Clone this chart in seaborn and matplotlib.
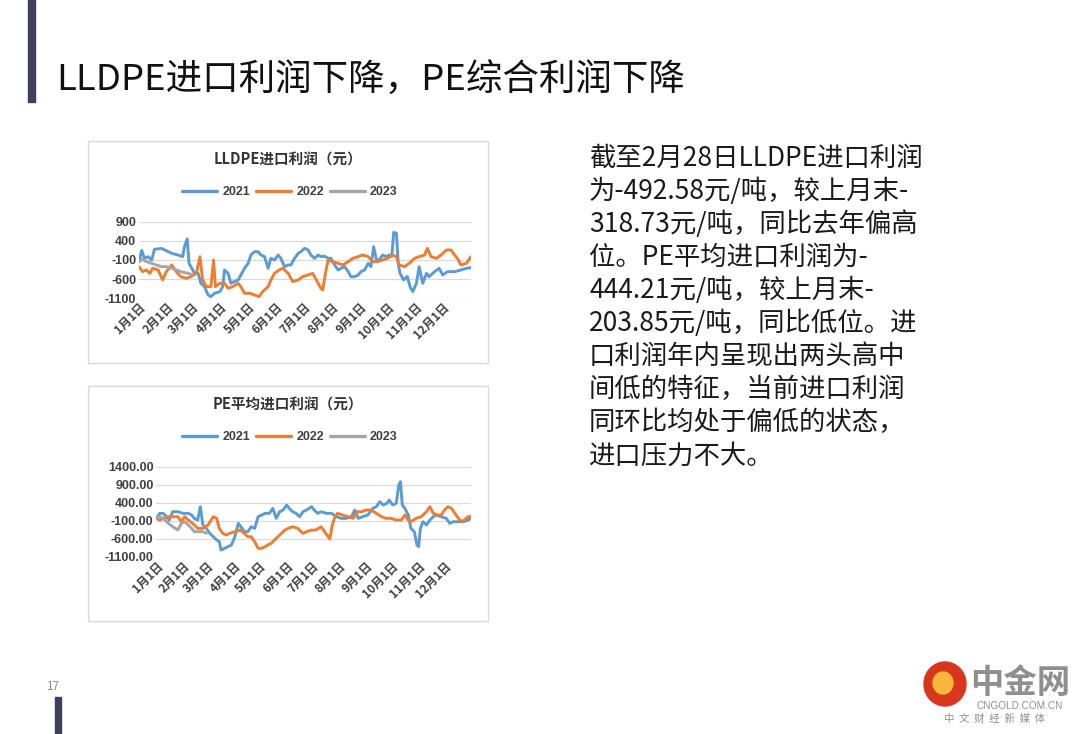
import numpy as np
import pandas as pd
import matplotlib.pyplot as plt
import seaborn as sns
from matplotlib.patches import Rectangle, Ellipse

# 月份刻度
month_days = [0, 31, 59, 90, 120, 151, 181, 212, 243, 273, 304, 334]
month_labels = [f'{m}月1日' for m in range(1, 13)]

# LLDPE进口利润（元），按一年中的天数读图估计
lldpe_2021_day = [0, 3, 6, 10, 14, 17, 25, 36, 43, 48, 50, 53, 55, 57, 61, 65, 68, 72, 76, 79,
                  83, 89, 92, 94, 98, 101, 105, 109, 112, 116, 120, 123, 127, 131, 134, 138, 142,
                  145, 149, 153, 156, 160, 164, 167, 171, 175, 178, 182, 186, 189, 193, 197, 200,
                  204, 208, 211, 215, 219, 222, 226, 230, 233, 237, 241, 244, 248, 252, 255, 258,
                  261, 264, 268, 272, 275, 278, 280, 283, 285, 287, 291, 295, 298, 301, 305, 308,
                  312, 316, 319, 325, 330, 334, 339, 347, 354, 360, 365]
lldpe_2021 = [-150, 150, -57, -13, -100, 180, 200, 74, 30, -13, 248, 450, -187, -274, -448, -448,
              -708, -796, -1013, -1057, -970, -926, -796, -361, -448, -708, -660, -622, -491, -317,
              -187, 30, 117, 117, 30, -13, -317, -57, -100, 30, -57, -274, -230, -230, -57, 74,
              117, 204, 161, 30, -57, 30, -13, 0, -57, -57, -230, -361, -317, -274, -404, -535,
              -535, -491, -404, -361, -187, -274, 248, -100, -100, 30, -13, 30, 0, 620, 600, -200,
              -448, -622, -530, -796, -926, -708, -274, -708, -448, -535, -404, -317, -491, -404,
              -404, -360, -317, -300]

lldpe_2022_day = [0, 4, 8, 12, 15, 21, 26, 30, 36, 41, 46, 52, 57, 63, 67, 70, 74, 79, 82, 84,
                  89, 94, 98, 103, 109, 112, 116, 122, 127, 132, 136, 142, 145, 149, 154, 158, 164,
                  169, 175, 180, 186, 191, 195, 200, 202, 205, 208, 213, 219, 224, 230, 235, 241,
                  246, 252, 257, 262, 268, 273, 279, 283, 286, 292, 297, 303, 308, 314, 317, 321,
                  327, 332, 338, 343, 347, 350, 354, 360, 365]
lldpe_2022 = [-274, -404, -360, -448, -317, -360, -622, -404, -230, -404, -535, -578, -535, -448,
              -13, -622, -796, -796, -100, -796, -708, -708, -840, -796, -708, -796, -970, -970,
              -1013, -1057, -926, -796, -622, -448, -360, -317, -448, -665, -622, -535, -491, -448,
              -622, -840, -883, -448, -100, -143, -187, -230, -143, -57, -13, 30, -13, -143, -143,
              -100, -57, 30, -13, -230, -274, -187, -57, -13, 30, 204, -13, -57, 30, 161, 161, 30,
              -57, -230, -187, -13]

lldpe_2023_day = [0, 4, 8, 14, 19, 25, 30, 36, 41, 46, 54, 58]
lldpe_2023 = [-143, -83, -143, -187, -230, -274, -274, -317, -360, -404, -448, -480]

# PE平均进口利润（元）
pe_2021_day = [0, 4, 8, 12, 15, 19, 25, 31, 37, 41, 44, 48, 51, 54, 58, 62, 66, 70, 73, 75, 79,
               83, 87, 91, 95, 98, 102, 106, 110, 114, 118, 122, 126, 131, 135, 139, 143, 147, 151,
               154, 158, 162, 166, 170, 174, 180, 183, 187, 191, 197, 203, 209, 214, 220, 226, 230,
               234, 239, 245, 251, 255, 259, 263, 267, 270, 274, 278, 281, 283, 285, 288, 292, 295,
               299, 302, 304, 306, 309, 313, 317, 321, 324, 330, 336, 340, 344, 350, 356, 361, 365]
pe_2021 = [-35, 104, 104, 11, -81, 150, 150, 104, 104, 57, -35, -81, 289, -220, -313, -452, -544,
           -637, -683, -915, -868, -822, -776, -544, -174, -267, -405, -405, -267, -313, 11, 57,
           104, 104, 243, -35, 150, 196, 335, 243, 150, 104, 11, 150, 196, 289, 196, 104, 150, 104,
           104, 11, -35, -35, 11, 196, -35, 11, 57, 243, 289, 428, 335, 382, 474, 335, 382, 891,
           983, 335, 243, 57, -313, -405, -776, -822, -313, -128, -220, -81, 11, 57, 11, -35, -174,
           -128, -128, -128, -81, -35]

pe_2022_day = [0, 4, 8, 14, 19, 25, 29, 33, 37, 42, 48, 54, 60, 66, 70, 73, 77, 81, 85, 91, 97,
               102, 106, 110, 114, 118, 122, 126, 129, 133, 137, 141, 145, 149, 153, 158, 164, 170,
               174, 180, 185, 191, 195, 199, 201, 204, 207, 210, 216, 222, 228, 233, 238, 243, 249,
               255, 261, 266, 272, 278, 284, 288, 292, 295, 301, 307, 313, 317, 321, 326, 330, 334,
               338, 342, 346, 350, 354, 357, 361, 365]
pe_2022 = [-35, -81, -35, 11, 11, 11, -128, 11, -81, -174, -313, -313, -220, 11, -35, -313, -452,
           -498, -452, -405, -359, -452, -544, -544, -683, -868, -868, -822, -776, -730, -637, -544,
           -452, -359, -313, -267, -313, -452, -405, -359, -359, -267, -405, -544, -609, -220, 11,
           104, 57, 11, -35, 150, 150, 196, 196, 104, 11, -35, -35, -81, -81, 57, -81, -128, -35,
           11, 150, 289, 104, 57, 57, 196, 289, 243, 104, -35, -128, -81, 11, 11]

pe_2023_day = [0, 4, 8, 14, 19, 25, 29, 33, 37, 41, 44, 50, 54, 58]
pe_2023 = [-35, 11, -35, -174, -267, -359, -174, -128, -220, -313, -405, -405, -405, -452]

years = ['2021', '2022', '2023']
colors = ['#5B9BD5', '#ED7D31', '#A5A5A5']


def long_table(days_list, values_list):
    parts = []
    for y, d, v in zip(years, days_list, values_list):
        parts.append(pd.DataFrame({'day': d, 'value': v, 'year': y}))
    return pd.concat(parts, ignore_index=True)


df_lldpe = long_table([lldpe_2021_day, lldpe_2022_day, lldpe_2023_day],
                      [lldpe_2021, lldpe_2022, lldpe_2023])
df_pe = long_table([pe_2021_day, pe_2022_day, pe_2023_day], [pe_2021, pe_2022, pe_2023])

sns.set_theme(style='white')
plt.rcParams['font.family'] = ['Noto Sans CJK SC', 'DejaVu Sans']
plt.rcParams['axes.unicode_minus'] = False
num_font = ['Liberation Sans', 'DejaVu Sans']

W, H = 1080, 734
fig = plt.figure(figsize=(W / 100, H / 100), dpi=100)


def fx(px):
    return px / W


def fy(py):
    return 1 - py / H


# 左上装饰条和底部页码
fig.patches.append(Rectangle((fx(28), fy(102)), fx(7), 102 / H, transform=fig.transFigure,
                             color='#3D405A', zorder=0))
fig.patches.append(Rectangle((fx(55), fy(734)), fx(6), 37 / H, transform=fig.transFigure,
                             color='#3D405A', zorder=0))
fig.text(fx(47), fy(686), '17', fontsize=8.5, color='#8C8C8C', va='center')

fig.text(fx(56), fy(81), 'LLDPE进口利润下降，PE综合利润下降', fontsize=26.3,
         color='#111111', va='center', ha='left')

text_lines = ['截至2月28日LLDPE进口利润', '为-492.58元/吨，较上月末-', '318.73元/吨，同比去年偏高',
              '位。PE平均进口利润为-', '444.21元/吨，较上月末-', '203.85元/吨，同比低位。进',
              '口利润年内呈现出两头高中', '间低的特征，当前进口利润', '同环比均处于偏低的状态，',
              '进口压力不大。']
for i, line in enumerate(text_lines):
    fig.text(fx(589), fy(158 + i * 33.1), line, fontsize=19, color='#1A1A1A', va='center')


def draw_chart(df, box, plot, ylim, yticks, yfmt, title):
    bx0, by0, bx1, by1 = box
    fig.patches.append(Rectangle((fx(bx0), fy(by1)), fx(bx1 - bx0), (by1 - by0) / H,
                                 transform=fig.transFigure, fill=False,
                                 edgecolor='#D9D9D9', lw=1))
    px0, py0, px1, py1 = plot
    ax = fig.add_axes([fx(px0), fy(py1), fx(px1 - px0), (py1 - py0) / H])
    sns.lineplot(data=df, x='day', y='value', hue='year', palette=colors, lw=2.1,
                 ax=ax, estimator=None, sort=False)
    ax.set_xlim(0, 365)
    ax.set_ylim(*ylim)
    ax.set_yticks(yticks)
    ax.set_yticklabels([yfmt.format(v) for v in yticks], fontsize=9, fontweight='bold',
                       color='#404040', family=num_font)
    ax.set_xticks(month_days)
    ax.set_xticklabels(month_labels, rotation=45, ha='right', rotation_mode='anchor',
                       fontsize=8.5, fontweight='bold', color='#404040')
    ax.tick_params(axis='both', length=0, pad=2)
    ax.grid(axis='y', color='#D9D9D9', lw=0.8)
    for s in ax.spines.values():
        s.set_visible(False)
    ax.set_xlabel('')
    ax.set_ylabel('')
    cx = (bx0 + bx1) / 2
    fig.text(fx(cx), fy(by0 + 19), title, fontsize=10.5, fontweight='bold', color='#333333',
             ha='center', va='center')
    leg = ax.legend(loc='center', bbox_to_anchor=(fx(cx + 2), fy(by0 + 51)),
                    bbox_transform=fig.transFigure, ncol=3, frameon=False,
                    prop={'family': num_font, 'size': 9, 'weight': 'bold'},
                    handlelength=2.8, columnspacing=0.5, handletextpad=0.4)
    for t in leg.get_texts():
        t.set_color('#404040')
    for ln in leg.get_lines():
        ln.set_linewidth(2.4)
    return ax


draw_chart(df_lldpe, (88, 141, 488, 363), (139, 221.7, 471, 298.3), (-1100, 900),
           [-1100, -600, -100, 400, 900], '{:d}', 'LLDPE进口利润（元）')
draw_chart(df_pe, (88, 386, 488, 621), (156.3, 466.7, 471.3, 556.7), (-1100, 1400),
           [-1100, -600, -100, 400, 900, 1400], '{:.2f}', 'PE平均进口利润（元）')

# 右下角标识
fig.patches.append(Ellipse((fx(945), fy(684)), 42 / W, 44 / H, transform=fig.transFigure,
                           color='#D9361E', zorder=2))
fig.patches.append(Ellipse((fx(943), fy(683)), 20 / W, 22 / H, transform=fig.transFigure,
                           color='#F6B73C', zorder=3))
fig.text(fx(1020), fy(684), '中金网', fontsize=24, fontweight='bold', color='#8F8F8F',
         ha='center', va='center')
fig.text(fx(1020), fy(706), 'CNGOLD.COM.CN', fontsize=7.2, color='#8F8F8F', ha='center',
         va='center', family=num_font)
fig.text(fx(995), fy(719), '中  文  财  经  新  媒  体', fontsize=7.5, color='#8F8F8F',
         ha='center', va='center')

fig.savefig('out.png', dpi=100)
